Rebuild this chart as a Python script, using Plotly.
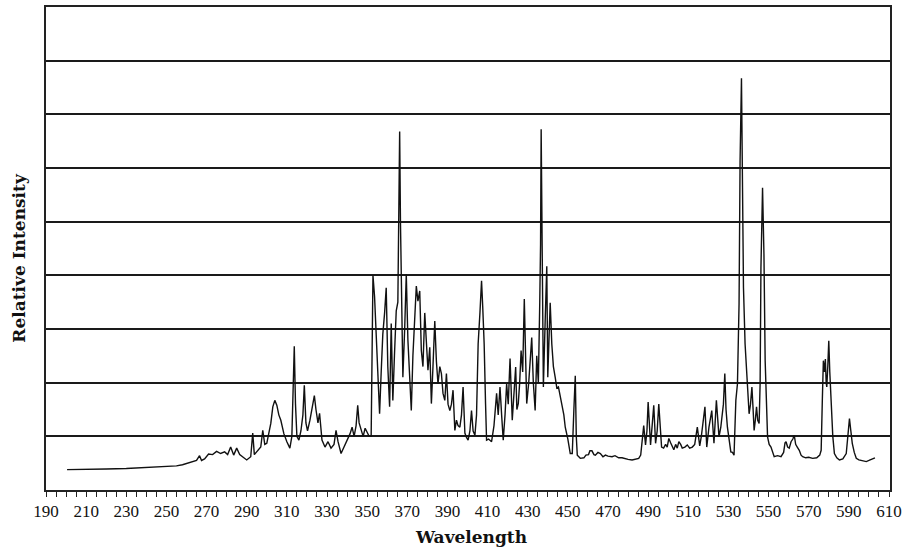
import plotly.graph_objects as go

wavelength = [
    200.5, 210, 220, 230, 235, 240, 245, 250, 255, 258, 261, 263, 265, 266.5, 267.5, 269, 271, 273, 275, 277,
    279, 280.5, 282, 283.5, 285, 286.5, 288, 290, 292, 293, 293.8, 296, 297, 298, 299, 300, 301, 302, 303, 304,
    305, 306, 307, 308.5, 310, 311.5, 312.5, 313.2, 313.7, 314.3, 315, 316, 317, 318, 318.7, 319.5, 320.3, 321.5,
    322.5, 323.7, 324.5, 325.5, 326.3, 327.5, 329, 330.5, 332, 333.5, 334.5, 335.5, 337, 338.5, 340.3, 341.5,
    342.5, 343.5, 344.5, 345.3, 346, 347, 348, 349, 350, 351, 352, 352.4, 352.9, 353.7, 354.5, 355.3, 356.2, 357,
    357.8, 358.7, 359.5, 360.3, 361.2, 362, 362.8, 363.6, 364.5, 365.3, 365.8, 366.2, 366.6, 367, 367.8, 368.7,
    369.5, 370.3, 371.2, 372, 372.8, 373.7, 374.5, 375.3, 376.2, 377, 377.8, 378.7, 379.5, 380.3, 381.2, 382,
    382.8, 383.7, 384.5, 385.3, 386.2, 387, 387.8, 388.7, 389.5, 390.3, 391.2, 392, 392.8, 393.7, 394.5, 395.3,
    396.2, 397, 397.8, 398.7, 399.5, 400.3, 401.2, 402, 402.8, 403.7, 404.5, 405.3, 406.2, 407, 407.6, 408.3,
    409, 409.5, 410.5, 412, 413.2, 414.5, 415.3, 416.2, 417, 417.8, 418.7, 419.5, 420.3, 421.2, 422.3, 423.2,
    424, 424.6, 425.3, 426, 426.7, 427.5, 428.3, 429, 429.5, 430.5, 431.2, 432, 432.8, 433.7, 434.5, 435.3, 436,
    436.4, 436.7, 437.1, 437.4, 437.8, 438.7, 439.5, 440, 440.6, 441.2, 442, 442.8, 443.7, 444.5, 445.3, 446.2,
    447, 448, 448.7, 450, 451.2, 452.2, 453, 453.7, 454.2, 454.7, 456.2, 458, 459, 460.3, 461, 462, 463, 463.7,
    465, 466.2, 467.5, 468.7, 470, 472, 473.5, 475.3, 477, 478.7, 480, 482, 484, 485.3, 486.3, 487, 487.8, 488.7,
    489.4, 490, 490.6, 491.2, 492, 492.8, 493.7, 494.5, 495.3, 496, 496.7, 497.7, 498.7, 499.5, 500.3, 501.2,
    502, 502.8, 503.7, 504.5, 505.3, 506.2, 507, 508.3, 509.5, 510.7, 512, 513.2, 514.5, 515.1, 515.7, 516.5,
    517.2, 518.3, 519.2, 520.3, 521.7, 522.8, 524, 525.3, 526.2, 526.7, 527.5, 528.2, 528.8, 529.5, 530.3, 531.2,
    532, 532.8, 533.7, 534.5, 535.3, 535.8, 536.5, 537, 537.5, 538.3, 539.5, 540.3, 541, 541.7, 542.3, 542.8,
    543.4, 544, 544.6, 545.3, 545.8, 546.2, 547, 547.7, 548.3, 549, 549.5, 550.3, 551.2, 552.8, 554.5, 556.2,
    557.5, 558.2, 558.7, 559.5, 560.3, 561.2, 562.1, 562.8, 563.5, 564.3, 565.3, 566.2, 567, 568.5, 570, 572,
    574, 575.5, 576.2, 576.8, 577.3, 577.8, 578.3, 578.7, 579, 579.5, 580, 580.5, 581.2, 582, 582.8, 584, 585.3,
    587, 588.7, 589.5, 590.3, 591, 591.7, 592.7, 593.7, 595, 596.5, 598.7, 600, 601, 602, 603,
]

intensity = [
    0.38, 0.38, 0.39, 0.40, 0.41, 0.41, 0.42, 0.43, 0.45, 0.47, 0.50, 0.52, 0.55, 0.64, 0.55, 0.58, 0.67, 0.66, 0.72, 0.68,
    0.71, 0.66, 0.80, 0.65, 0.78, 0.66, 0.62, 0.56, 0.62, 1.06, 0.66, 0.75, 0.80, 1.11, 0.85, 0.87, 1.05, 1.24, 1.55, 1.67,
    1.58, 1.40, 1.30, 1.05, 0.90, 0.78, 1.00, 2.10, 2.68, 1.60, 1.00, 0.93, 1.10, 1.40, 1.95, 1.25, 1.10, 1.30,
    1.50, 1.76, 1.50, 1.25, 1.43, 0.93, 0.80, 0.90, 0.78, 0.85, 1.11, 0.90, 0.68, 0.80, 0.93, 1.05,
    1.17, 1.00, 1.20, 1.58, 1.25, 1.11, 1.00, 1.15, 1.06, 1.00, 1.00, 2.50, 4.00, 3.60, 2.80, 2.00, 1.42, 2.20,
    2.90, 3.30, 3.77, 2.30, 1.55, 3.10, 1.67, 2.50, 3.34, 3.50, 5.00, 6.68, 5.00, 3.96, 2.10, 3.00,
    4.02, 2.80, 2.00, 1.48, 2.50, 3.20, 3.80, 3.52, 3.71, 2.60, 2.30, 3.30, 2.84, 2.23, 2.66, 1.61,
    2.30, 3.15, 2.40, 1.98, 2.30, 2.17, 1.80, 1.67, 2.17, 1.60, 1.48, 1.60, 1.86, 1.11, 1.30, 1.20,
    1.17, 1.40, 1.92, 1.06, 0.98, 0.93, 1.10, 1.48, 1.10, 1.02, 1.40, 2.72, 3.30, 3.90, 3.40, 2.72,
    1.60, 0.93, 0.95, 0.90, 1.20, 1.80, 1.40, 1.92, 1.40, 0.93, 1.40, 1.98, 1.60, 2.45, 1.30, 1.90,
    2.29, 1.50, 1.61, 2.00, 2.60, 2.20, 3.56, 2.40, 1.61, 2.00, 2.40, 2.84, 2.00, 1.48, 2.50, 2.00, 3.50,
    4.58, 6.72, 5.00, 4.45, 1.92, 3.15, 4.17, 2.10, 2.80, 3.49, 2.72, 2.30, 2.10, 1.90, 1.92, 1.75,
    1.61, 1.40, 1.17, 0.95, 0.68, 0.68, 1.50, 2.13, 1.00, 0.65, 0.59, 0.60, 0.65, 0.66, 0.73, 0.73, 0.66, 0.65,
    0.70, 0.68, 0.62, 0.65, 0.63, 0.62, 0.64, 0.60, 0.60, 0.58, 0.57, 0.56, 0.57, 0.59, 0.65, 0.87, 1.20, 0.84,
    1.10, 1.64, 1.20, 0.84, 1.20, 1.58, 0.87, 1.10, 1.60, 1.10, 0.80, 0.78, 0.85, 0.80, 0.96, 0.88,
    0.80, 0.75, 0.85, 0.78, 0.90, 0.85, 0.78, 0.80, 0.84, 0.78, 0.80, 0.85, 1.17, 0.95, 0.82, 1.00,
    1.20, 1.55, 0.80, 1.17, 1.48, 0.87, 1.67, 0.99, 1.17, 1.30, 1.60, 2.17, 1.50, 1.17, 0.90, 0.71,
    0.70, 0.65, 1.67, 1.98, 3.47, 6.12, 7.67, 6.12, 3.77, 2.72, 1.92, 1.42, 1.60, 1.92, 1.50, 1.11,
    1.30, 1.55, 1.30, 1.24, 2.00, 4.14, 5.63, 4.39, 2.41, 1.40, 0.99, 0.85, 0.80, 0.62, 0.64, 0.62,
    0.70, 0.88, 0.90, 0.80, 0.78, 0.90, 0.95, 1.02, 0.85, 0.80, 0.74, 0.65, 0.62, 0.60, 0.61, 0.59,
    0.60, 0.65, 0.74, 1.70, 2.41, 2.20, 2.44, 2.00, 1.92, 2.30, 2.78, 2.20, 1.67, 1.00, 0.68, 0.60, 0.56,
    0.58, 0.68, 1.00, 1.33, 1.10, 0.87, 0.70, 0.59, 0.56, 0.55, 0.53, 0.55, 0.57, 0.59, 0.60,
]

x_tick_values = list(range(190, 611, 20))
x_tick_labels = [str(v) for v in x_tick_values]

fig = go.Figure()
fig.add_trace(go.Scatter(
    x=wavelength, y=intensity, mode="lines",
    line=dict(color="#111111", width=1.4),
    hoverinfo="skip", showlegend=False,
))

fig.update_layout(
    width=908, height=550,
    margin=dict(l=46, r=18, t=5, b=60),
    paper_bgcolor="white", plot_bgcolor="white",
    xaxis=dict(
        range=[190, 610.5],
        tickmode="array", tickvals=x_tick_values, ticktext=x_tick_labels,
        ticks="outside", ticklen=5, tickwidth=1.2, tickcolor="#222",
        minor=dict(dtick=5, tick0=190, ticks="outside", ticklen=5, tickwidth=1.2, tickcolor="#222", showgrid=False),
        showgrid=False, zeroline=False,
        showline=True, linecolor="#222", linewidth=2, mirror=True,
        tickfont=dict(family="Liberation Serif", size=17, color="#111"),
    ),
    yaxis=dict(
        range=[0, 9], dtick=1, tick0=0,
        showticklabels=False, ticks="",
        showgrid=True, gridcolor="#1a1a1a", gridwidth=1.6,
        zeroline=False,
        showline=True, linecolor="#222", linewidth=2, mirror=True,
    ),
    annotations=[
        dict(text="<b>Wavelength</b>", xref="paper", yref="paper", x=0.5036, y=-0.097,
             xanchor="center", yanchor="middle", showarrow=False,
             font=dict(family="DejaVu Serif", size=17, color="#111")),
        dict(text="<b>Relative Intensity</b>", xref="paper", yref="paper", x=-0.032, y=0.481,
             xanchor="center", yanchor="middle", showarrow=False, textangle=-90,
             font=dict(family="DejaVu Serif", size=17, color="#111")),
    ],
)

fig.write_html("out.html", config={"displayModeBar": False},
               post_script="document.body.style.margin='0';")
